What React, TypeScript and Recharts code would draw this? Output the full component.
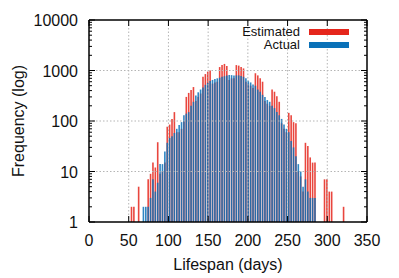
import { BarChart, Bar, XAxis, YAxis, ReferenceLine, Legend } from "recharts";

// bins (days), every 3 days
const days = [
  48, 51, 54, 57, 60, 63, 66, 69, 72, 75, 78, 81, 84, 87, 90, 93, 96, 99, 102,
  105, 108, 111, 114, 117, 120, 123, 126, 129, 132, 135, 138, 141, 144, 147,
  150, 153, 156, 159, 162, 165, 168, 171, 174, 177, 180, 183, 186, 189, 192,
  195, 198, 201, 204, 207, 210, 213, 216, 219, 222, 225, 228, 231, 234, 237,
  240, 243, 246, 249, 252, 255, 258, 261, 264, 267, 270, 273, 276, 279, 282,
  285, 288, 291, 294, 297, 300, 303, 306, 309, 312, 315, 318, 321,
];

const estimated = [
  null, null, 2, 2, null, 5, null, null, null, 7, 9, 15, 12, 38, 9, 10, 15, 77,
  85, 110, 150, 60, 60, 70, 100, 300, 360, 410, 470, 250, 300, 350, 750, 850,
  950, 1000, 550, 580, 600, 1170, 1280, 1350, 1230, 650, 700, 700, 1280, 1250,
  1170, 1100, 600, 550, 500, 450, 880, 800, 700, 600, 250, 220, 200, 420, 380,
  310, 240, 90, 70, 60, 145, 130, 95, 90, 10, 8, 4, 37, 32, 19, 15, 15, null,
  null, null, 7, 7, 4, 4, null, null, null, null, 2,
];

const actual = [
  null, null, null, null, null, null, null, 2, 2, 2, 3, 7, 4, 6, 14, 14, 25, 37,
  46, 50, 58, 70, 83, 95, 130, 140, 150, 200, 240, 320, 370, 420, 460, 520, 570,
  620, 650, 680, 700, 720, 750, 770, 800, 810, 810, 800, 800, 800, 780, 750,
  700, 630, 580, 530, 500, 420, 380, 330, 300, 260, 240, 200, 180, 150, 130,
  110, 85, 70, 60, 40, 30, 20, 14, 10, 5, 7, 4, 3, 3, 3, null, null, null, null,
  null, null, null, null, null, null, null, null,
];

const seriesNames = ["Estimated", "Actual"];
const seriesColors = ["#e5261c", "#0a71b8"];

const xTicks = [0, 50, 100, 150, 200, 250, 300, 350];
const xGrid = [50, 100, 150, 200, 250, 300];
const yMajor = [1, 10, 100, 1000, 10000];
const yGrid = [10, 100, 1000];
const yTicks = [
  1, 2, 3, 4, 5, 6, 7, 8, 9, 10, 20, 30, 40, 50, 60, 70, 80, 90, 100, 200, 300,
  400, 500, 600, 700, 800, 900, 1000, 2000, 3000, 4000, 5000, 6000, 7000, 8000,
  9000, 10000,
];

const data = days.map((day, i) => ({
  day,
  estimated: estimated[i],
  actual: actual[i],
}));

const FONT = "'Liberation Sans', Arial, Helvetica, sans-serif";

function BottomTick({ x, y, payload }: any) {
  return (
    <g>
      <line x1={x} y1={y} x2={x} y2={y - 6} stroke="#000" />
      <text x={x} y={y + 24} textAnchor="middle" fontSize={16} fontFamily={FONT} fill="#111">
        {payload.value}
      </text>
    </g>
  );
}

function TopTick({ x, y }: any) {
  return <line x1={x} y1={y} x2={x} y2={y + 6} stroke="#000" />;
}

function LeftTick({ x, y, payload }: any) {
  const major = yMajor.includes(payload.value);
  return (
    <g>
      <line x1={x} y1={y} x2={x + (major ? 6 : 3)} y2={y} stroke="#000" />
      {major && (
        <text x={x - 11} y={y + 6} textAnchor="end" fontSize={16} fontFamily={FONT} fill="#111">
          {payload.value}
        </text>
      )}
    </g>
  );
}

// tick marks only, pointing into the plot
function RightTick({ x, y, payload }: any) {
  const major = yMajor.includes(payload.value);
  return <line x1={x} y1={y} x2={x - (major ? 6 : 3)} y2={y} stroke="#000" />;
}

function LegendBox() {
  return (
    <svg width={130} height={34} style={{ display: "block", overflow: "hidden" }}>
      {seriesNames.map((name, i) => (
        <g key={name}>
          <text
            x={70}
            y={14 + i * 13}
            textAnchor="end"
            fontSize={13}
            fontFamily={FONT}
            fill="#111"
          >
            {name}
          </text>
          <rect x={79} y={7 + i * 13} width={40} height={6} fill={seriesColors[i]} />
        </g>
      ))}
    </svg>
  );
}

export default function App() {
  return (
    <div style={{ position: "absolute", left: 0, top: 0, width: 399, height: 278, overflow: "hidden" }}>
      <BarChart
        width={399}
        height={278}
        data={data}
        margin={{ top: 0, right: 0, bottom: 0, left: 0 }}
        barGap={-1.6}
      >
        <XAxis
          dataKey="day"
          type="number"
          domain={[0, 350]}
          allowDataOverflow
          ticks={xTicks}
          interval={0}
          height={56}
          tickSize={0}
          tickMargin={0}
          tickLine={false}
          tick={BottomTick}
          axisLine={{ stroke: "#000", strokeWidth: 1.5 }}
          label={({ viewBox }: any) => (
            <text
              x={viewBox.x + viewBox.width / 2}
              y={270}
              textAnchor="middle"
              fontSize={16}
              fontFamily={FONT}
              fill="#111"
            >
              Lifespan (days)
            </text>
          )}
        />
        <XAxis
          xAxisId="top"
          orientation="top"
          dataKey="day"
          type="number"
          domain={[0, 350]}
          allowDataOverflow
          ticks={xTicks}
          interval={0}
          height={20}
          tickSize={0}
          tickMargin={0}
          tickLine={false}
          tick={TopTick}
          axisLine={{ stroke: "#000", strokeWidth: 1.5 }}
        />
        <YAxis
          yAxisId="left"
          scale="log"
          domain={[1, 10000]}
          allowDataOverflow
          ticks={yTicks}
          interval={0}
          width={89}
          tickSize={0}
          tickMargin={0}
          tickLine={false}
          tick={LeftTick}
          axisLine={{ stroke: "#000", strokeWidth: 1.5 }}
          label={({ viewBox }: any) => {
            const cy = viewBox.y + viewBox.height / 2;
            return (
              <text
                x={18}
                y={cy}
                transform={`rotate(-90 18 ${cy})`}
                textAnchor="middle"
                dominantBaseline="central"
                fontSize={16}
                fontFamily={FONT}
                fill="#111"
              >
                Frequency (log)
              </text>
            );
          }}
        />
        <YAxis
          yAxisId="right"
          orientation="right"
          scale="log"
          domain={[1, 10000]}
          allowDataOverflow
          ticks={yTicks}
          interval={0}
          width={32}
          tickSize={0}
          tickMargin={0}
          tickLine={false}
          tick={RightTick}
          axisLine={{ stroke: "#000", strokeWidth: 1.5 }}
        />
        <Bar
          yAxisId="left"
          dataKey="estimated"
          name={seriesNames[0]}
          fill={seriesColors[0]}
          fillOpacity={0.85}
          barSize={1.6}
          isAnimationActive={false}
        />
        <Bar
          yAxisId="left"
          dataKey="actual"
          name={seriesNames[1]}
          fill={seriesColors[1]}
          fillOpacity={0.85}
          barSize={1.6}
          isAnimationActive={false}
        />
        {xGrid.map((v) => (
          <ReferenceLine
            key={"x" + v}
            x={v}
            yAxisId="left"
            stroke="#b5b5b5"
            strokeDasharray="1.5 2"
          />
        ))}
        {yGrid.map((v) => (
          <ReferenceLine
            key={"y" + v}
            y={v}
            yAxisId="left"
            stroke="#b5b5b5"
            strokeDasharray="1.5 2"
          />
        ))}
        <Legend
          layout="horizontal"
          verticalAlign="middle"
          align="center"
          content={LegendBox}
          wrapperStyle={{ left: 230, top: 22, width: 130, height: 34 }}
        />
      </BarChart>
    </div>
  );
}
